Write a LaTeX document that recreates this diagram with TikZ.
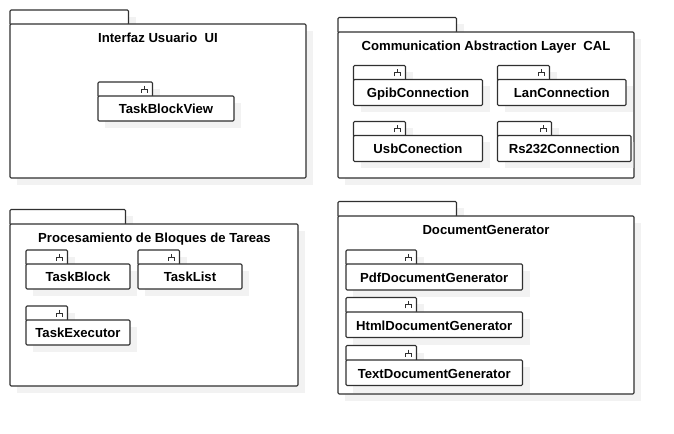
\documentclass[tikz,border=0pt]{standalone}
\usepackage{fontspec}
\setmainfont{Liberation Sans}
\definecolor{umlline}{HTML}{303030}
\definecolor{umlshadow}{HTML}{F2F2F2}
\tikzset{
  boxshape/.style={draw=umlline,fill=white,line width=0.85pt,rounded corners=0.8pt,inner sep=0pt,outer sep=0pt},
  shadowshape/.style={fill=umlshadow,draw=none},
  icon/.style={draw=umlline,line width=0.75pt},
  labeltext/.style={font=\fontsize{9.85pt}{11pt}\selectfont\bfseries,text=black,text height=9pt,text depth=1pt,inner sep=0pt},
}
% #1 name, #2 left, #3 tab right, #4 tab top, #5 body top, #6 right, #7 bottom
\newcommand{\umlbox}[7]{%
  \fill[shadowshape] (#3,#4+7) rectangle (#3+7,#5);%
  \fill[shadowshape] (#2+7,#7) rectangle (#6+7,#7+7);%
  \fill[shadowshape] (#6,#5+7) rectangle (#6+7,#7);%
  \path[boxshape] (#2,#4) rectangle (#3,#5+1);%
  \coordinate (#1-tl) at (#2,#5);\coordinate (#1-br) at (#6,#7);%
  \path[boxshape] (#1-tl) rectangle (#1-br);%
}
% small package: with fork icon and centred label
\newcommand{\umlcomp}[8]{%
  \umlbox{#1}{#2}{#3}{#4}{#5}{#6}{#7}%
  \draw[icon] (#3-11.5,#4+11) -- (#3-11.5,#4+7.5) -- (#3-5.5,#4+7.5) -- (#3-5.5,#4+11);%
  \draw[icon] (#3-8.5,#4+4) -- (#3-8.5,#4+7.5);%
  \node[labeltext] (#1) at ({(#2+#6)/2},{(#5+#7)/2}) {#8};%
}
\begin{document}
\begin{tikzpicture}[x=0.75pt,y=-0.75pt]
\useasboundingbox (0,0) rectangle (674,434);
\fill[white] (0,0) rectangle (674,434);

\umlbox{ui}{10}{128.5}{10}{24}{306}{178}
\node[labeltext] (uititle) at (158,37.5) {Interfaz Usuario\ \ UI};
\umlcomp{tbv}{98}{152.5}{82}{96}{234}{121}{TaskBlockView}

\umlbox{cal}{338}{456.5}{17.5}{32}{634}{178}
\node[labeltext] (caltitle) at (486,45.5) {Communication Abstraction Layer\ \ CAL};
\umlcomp{gpib}{353.5}{405.5}{65.5}{79.5}{482.5}{105.5}{GpibConnection}
\umlcomp{lan}{497.5}{549.5}{65.5}{79.5}{626}{105.5}{LanConnection}
\umlcomp{usb}{353.5}{405.5}{121.5}{135.5}{482.5}{161.5}{UsbConection}
\begin{scope}
\clip (490,110) rectangle (633.4,175);
\umlcomp{rs}{497.5}{551.5}{121.5}{135.5}{631}{161.5}{Rs232Connection}
\end{scope}

\umlbox{proc}{10}{125.5}{209.5}{224}{298}{386}
\node[labeltext] (proctitle) at (154.5,237.5) {Procesamiento de Bloques de Tareas};
\umlcomp{block}{26}{67.5}{250}{264}{130}{289}{TaskBlock}
\umlcomp{list}{138}{179.5}{250}{264}{242}{289}{TaskList}
\umlcomp{exec}{26}{67.5}{306}{320}{130}{345}{TaskExecutor}

\umlbox{doc}{338}{456.5}{201.5}{216}{634}{394}
\node[labeltext] (doctitle) at (486,229) {DocumentGenerator};
\umlcomp{pdf}{346}{416.5}{250}{264}{522.5}{290}{PdfDocumentGenerator}
\umlcomp{html}{346}{416.5}{297.5}{312}{522.5}{337.5}{HtmlDocumentGenerator}
\umlcomp{text}{346}{416.5}{345.5}{360}{522.5}{385.5}{TextDocumentGenerator}
\end{tikzpicture}
\end{document}
